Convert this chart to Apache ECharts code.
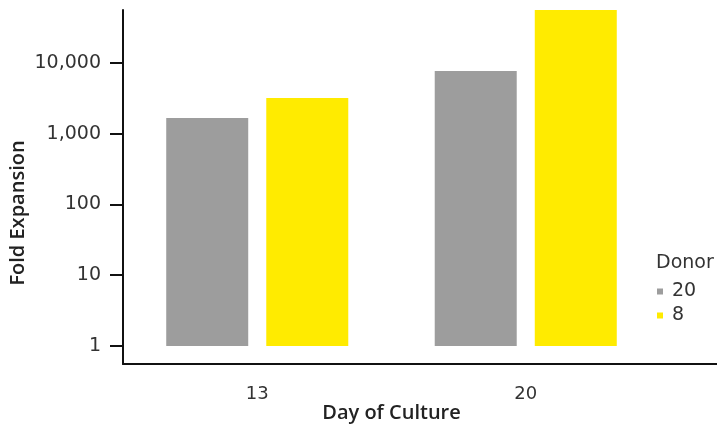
<!DOCTYPE html>
<html>
<head>
<meta charset="utf-8">
<script src="https://cdn.jsdelivr.net/npm/echarts@6/dist/echarts.min.js"></script>
<style>
  html, body { margin: 0; padding: 0; background: #fff; }
  #chart { width: 717px; height: 426px; }
</style>
</head>
<body>
<div id="chart"></div>
<script>
// Fold expansion by day of culture, one bar per donor (log scale)
const days = ['13', '20'];
const donors = ['20', '8'];
const donor20 = [1670, 7700];
const donor8 = [3200, 56000];
const yTicks = [1, 10, 100, 1000, 10000];

const colors = ['#9d9d9d', '#ffeb00'];
const labelFont = '"DejaVu Sans", sans-serif';
const titleFont = '"Open Sans", sans-serif';
const textColor = '#333333';

const chart = echarts.init(document.getElementById('chart'));

chart.setOption({
  animation: false,
  backgroundColor: '#ffffff',
  title: {
    text: 'Donor',
    left: 656,
    top: 254,
    padding: 0,
    textStyle: { fontFamily: labelFont, fontSize: 19, fontWeight: 'normal', color: textColor }
  },
  legend: {
    data: donors,
    orient: 'vertical',
    left: 657,
    top: 282,
    padding: 0,
    icon: 'rect',
    itemWidth: 6,
    itemHeight: 6,
    itemGap: 5,
    textStyle: { fontFamily: labelFont, fontSize: 19, color: textColor, padding: [0, 0, 0, 4] }
  },
  grid: { left: 123, right: 57, top: 10, bottom: 62, outerBoundsMode: 'none', containLabel: false },
  xAxis: {
    type: 'category',
    data: days,
    name: 'Day of Culture',
    nameLocation: 'middle',
    nameGap: 39,
    nameMoveOverlap: false,
    nameTextStyle: { fontFamily: titleFont, fontSize: 20, fontWeight: 600, color: '#222' },
    axisLine: { lineStyle: { color: '#111', width: 2 } },
    axisTick: { show: false },
    axisLabel: { fontFamily: labelFont, fontSize: 18, color: textColor, margin: 21 }
  },
  yAxis: {
    type: 'log',
    logBase: 10,
    min: 0.557,
    max: 56000,
    name: 'Fold Expansion',
    nameLocation: 'middle',
    nameGap: 95,
    nameMoveOverlap: false,
    nameRotate: 90,
    nameTextStyle: {
      fontFamily: titleFont, fontSize: 20, fontWeight: 600, color: '#222',
      padding: [0, 52, 0, 0]
    },
    axisLine: { show: true, lineStyle: { color: '#111', width: 2 } },
    axisTick: { show: true, inside: false, length: 13, lineStyle: { color: '#111', width: 2 }, customValues: yTicks },
    axisLabel: {
      fontFamily: labelFont, fontSize: 19, color: textColor, margin: 22,
      customValues: yTicks,
      formatter: v => Math.round(v).toLocaleString('en-US')
    },
    splitLine: { show: false }
  },
  series: [
    {
      name: donors[0], type: 'bar', data: donor20, barWidth: 82, barGap: '22%',
      itemStyle: { color: colors[0] }
    },
    {
      name: donors[1], type: 'bar', data: donor8, barWidth: 82,
      itemStyle: { color: colors[1] }
    }
  ],
  graphic: [{
    // the baseline continues under the legend to the right edge
    type: 'line',
    shape: { x1: 659, y1: 364, x2: 717, y2: 364 },
    style: { stroke: '#111', lineWidth: 2 }
  }]
});
</script>
</body>
</html>
